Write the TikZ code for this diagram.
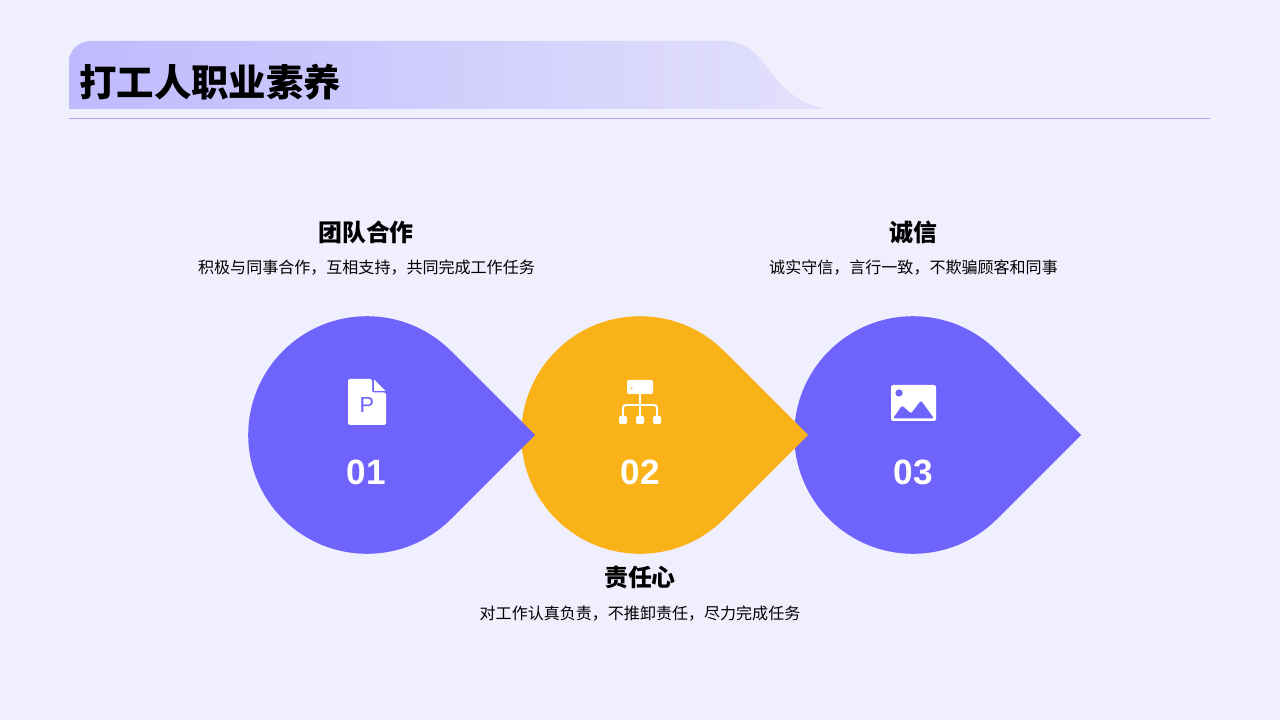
\documentclass[tikz,border=0pt]{standalone}
\usepackage{fontspec}
\setmainfont{Noto Sans CJK SC}
\newfontfamily\numfont{Liberation Sans}
\definecolor{pagebg}{HTML}{F0EFFD}
\definecolor{dropblue}{HTML}{6E64FC}
\definecolor{droporange}{HTML}{FAB219}
\definecolor{ruleblue}{HTML}{B0A8FF}
\definecolor{bandleft}{HTML}{BFBAFD}
\definecolor{bandright}{HTML}{E3E1FC}
\tikzset{
  titletext/.style={anchor=west, font=\fontsize{26.6pt}{30pt}\selectfont\bfseries, text=black, inner sep=0pt},
  headtext/.style={font=\fontsize{17pt}{20pt}\selectfont\bfseries, text=black, inner sep=0pt},
  desctext/.style={font=\fontsize{11.4pt}{14pt}\selectfont, text=black, inner sep=0pt},
  numtext/.style={font=\fontsize{25pt}{28pt}\selectfont\numfont\bfseries, text=white, inner sep=0pt},
  iconline/.style={draw=white, line width=1.4pt, rounded corners=2pt}
}
\newcommand{\dropat}[2]{\fill[#2] (#1,435) ++(168,0) -- ++(-84,-84) arc[start angle=-45, end angle=-315, radius=118.8] -- cycle;}
\begin{document}
\begin{tikzpicture}[x=0.025cm, y=-0.025cm]
\useasboundingbox (0,0) rectangle (1280,720);
\fill[pagebg] (0,0) rectangle (1280,720);

% Title band and rule
\shade[left color=bandleft, right color=bandright] (69,109) -- (69,63) .. controls (69,50) and (78,41) .. (92,41)
  -- (725,41) .. controls (745,41) and (755,52) .. (766,66) .. controls (783,88) and (798,105) .. (828,109) -- cycle;
\draw[ruleblue, line width=0.8pt] (69,118.7) -- (1210,118.7);
\node[titletext] (title) at (79,82) {打工人职业素养};

% Drops, drawn right to left so each tip lies on the next one
\dropat{913}{dropblue}
\dropat{640}{droporange}
\dropat{367}{dropblue}

% Icon 01
\fill[white, rounded corners=1.5pt] (348,379) -- (372,379) -- (372,392.5) -- (386,392.5) -- (386,425) -- (348,425) -- cycle;
\fill[white] (374,379.5) -- (385.5,391) -- (374,391) -- cycle;
\node[font=\fontsize{15.5pt}{16pt}\selectfont\numfont, text=dropblue, inner sep=0pt] (iconp) at (367,405.5) {P};

% Icon 02
\fill[white, rounded corners=1.5pt] (627,380) rectangle (653,394);
\fill[droporange] (631.5,388.5) circle (1);
\draw[iconline] (640,394) -- (640,418);
\draw[iconline] (623,418) -- (623,405) -- (657,405) -- (657,418);
\fill[white, rounded corners=1pt] (619,416) rectangle (627,424);
\fill[white, rounded corners=1pt] (636,416) rectangle (644,424);
\fill[white, rounded corners=1pt] (653,416) rectangle (661,424);

% Icon 03
\fill[white, rounded corners=1.5pt] (891,385) rectangle (936,421);
\fill[dropblue] (899,393) circle (3.6);
\fill[dropblue, rounded corners=1pt] (893,418.5) -- (902,405.5) -- (911,413.5) -- (921,400.5) -- (934,418.5) -- cycle;

% Numbers
\node[numtext] (num1) at (366,472) {01};
\node[numtext] (num2) at (640,472) {02};
\node[numtext] (num3) at (913,472) {03};

% Labels
\node[headtext] (head1) at (366,232) {团队合作};
\node[desctext] (desc1) at (366.5,267.5) {积极与同事合作，互相支持，共同完成工作任务};
\node[headtext] (head3) at (913,232) {诚信};
\node[desctext] (desc3) at (913.5,267.5) {诚实守信，言行一致，不欺骗顾客和同事};
\node[headtext] (head2) at (640,578) {责任心};
\node[desctext] (desc2) at (640,613.5) {对工作认真负责，不推卸责任，尽力完成任务};
\end{tikzpicture}
\end{document}
